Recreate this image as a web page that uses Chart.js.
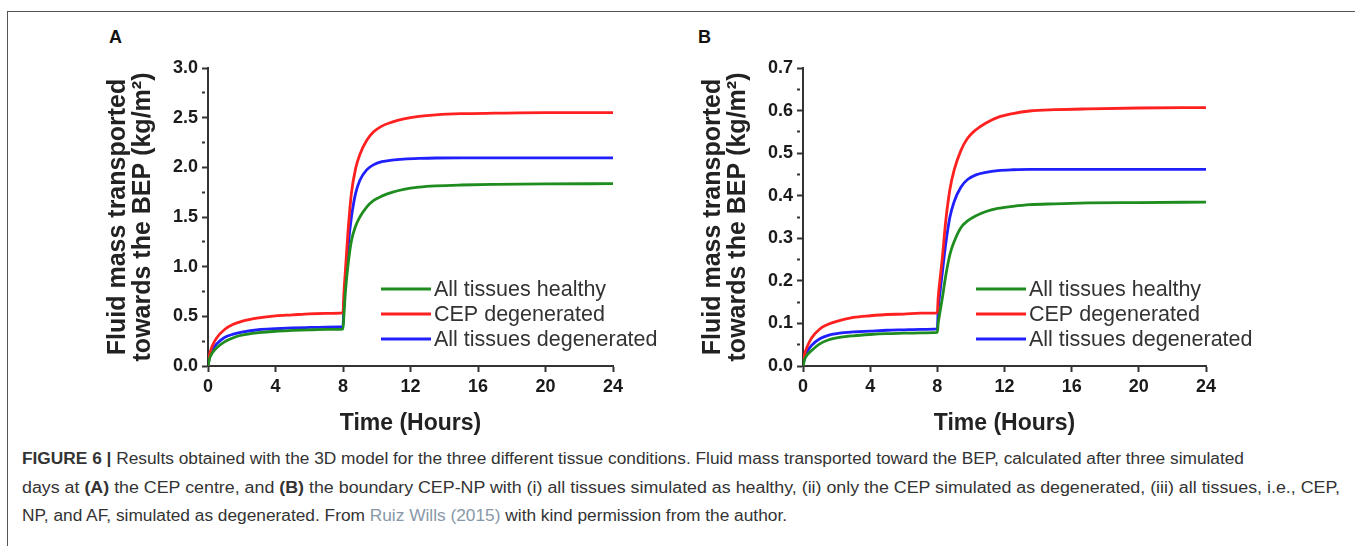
<!DOCTYPE html>
<html>
<head>
<meta charset="utf-8">
<script src="https://cdn.jsdelivr.net/npm/chart.js@4.4.0/dist/chart.umd.min.js"></script>
<style>
  body { margin: 0; background: #fff; width: 1355px; height: 546px; overflow: hidden; position: relative;
         font-family: "Liberation Sans", Arial, sans-serif; }
  #frame { position: absolute; left: 7px; top: 11px; width: 1400px; height: 600px;
           border-left: 1px solid #555; border-top: 1px solid #555; }
  .panel { position: absolute; top: 20px; }
  .letter { position: absolute; top: 27px; font-weight: bold; font-size: 18px; color: #111; }
  #caption { position: absolute; left: 22px; top: 445px; font-size: 16px; line-height: 28.5px; color: #333; }
  #caption div { white-space: nowrap; width: max-content; transform-origin: 0 0; }
  .ref { color: #8797a8; }
</style>
</head>
<body>
<div id="frame"></div>
<div class="letter" style="left:109px">A</div>
<div class="letter" style="left:698px">B</div>
<canvas id="chartA" class="panel" style="left:80px" width="590" height="420"></canvas>
<canvas id="chartB" class="panel" style="left:675px" width="590" height="420"></canvas>
<div id="caption">
  <div><b>FIGURE 6 |</b> Results obtained with the 3D model for the three different tissue conditions. Fluid mass transported toward the BEP, calculated after three simulated</div>
  <div>days at <b>(A)</b> the CEP centre, and <b>(B)</b> the boundary CEP-NP with (i) all tissues simulated as healthy, (ii) only the CEP simulated as degenerated, (iii) all tissues, i.e., CEP,</div>
  <div>NP, and AF, simulated as degenerated. From <span class="ref">Ruiz Wills (2015)</span> with kind permission from the author.</div>
</div>
<script>
// time axis (hours), shared by all curves
const hours = [0, 0.1, 0.25, 0.5, 1, 1.5, 2, 3, 4, 5, 6, 7, 8, 8.05, 8.15, 8.3, 8.5, 8.75, 9, 9.4, 9.8, 10.3, 10.9, 11.6, 12.5, 13.5, 15, 17, 20, 24];

const seriesNames = ['All tissues healthy', 'CEP degenerated', 'All tissues degenerated'];
const seriesColors = ['#1e8c1e', '#ff2020', '#2020ff'];

// Panel A - CEP centre
const healthyA = [0, 0.08, 0.13, 0.18, 0.245, 0.285, 0.31, 0.335, 0.35, 0.358, 0.364, 0.368, 0.372, 0.5, 0.76, 1.02, 1.26, 1.41, 1.50, 1.60, 1.665, 1.71, 1.748, 1.778, 1.80, 1.813, 1.822, 1.828, 1.833, 1.835];
const cepDegA = [0, 0.12, 0.2, 0.28, 0.37, 0.42, 0.45, 0.485, 0.505, 0.515, 0.525, 0.53, 0.535, 0.72, 0.98, 1.36, 1.74, 1.99, 2.13, 2.27, 2.355, 2.415, 2.455, 2.487, 2.512, 2.528, 2.54, 2.545, 2.55, 2.55];
const allDegA = [0, 0.1, 0.16, 0.22, 0.29, 0.32, 0.34, 0.365, 0.375, 0.383, 0.388, 0.392, 0.395, 0.6, 0.88, 1.2, 1.5, 1.74, 1.87, 1.975, 2.025, 2.057, 2.073, 2.083, 2.09, 2.094, 2.095, 2.095, 2.095, 2.095];

// Panel B - boundary CEP-NP
const healthyB = [0, 0.016, 0.026, 0.036, 0.052, 0.061, 0.066, 0.071, 0.074, 0.076, 0.077, 0.078, 0.079, 0.1, 0.125, 0.16, 0.212, 0.262, 0.292, 0.325, 0.341, 0.353, 0.363, 0.37, 0.375, 0.379, 0.381, 0.383, 0.384, 0.385];
const cepDegB = [0, 0.028, 0.045, 0.065, 0.087, 0.098, 0.105, 0.114, 0.118, 0.121, 0.122, 0.124, 0.125, 0.16, 0.2, 0.255, 0.34, 0.415, 0.46, 0.506, 0.535, 0.555, 0.571, 0.584, 0.593, 0.599, 0.602, 0.604, 0.606, 0.607];
const allDegB = [0, 0.022, 0.034, 0.048, 0.064, 0.072, 0.076, 0.08, 0.082, 0.084, 0.085, 0.086, 0.087, 0.13, 0.17, 0.22, 0.287, 0.35, 0.386, 0.42, 0.438, 0.449, 0.455, 0.459, 0.461, 0.462, 0.462, 0.462, 0.462, 0.462];

const xTitle = 'Time (Hours)';
const yTitle = ['Fluid mass transported', 'towards the BEP (kg/m\u00B2)'];

Chart.defaults.font.family = '"Liberation Sans", Arial, sans-serif';
Chart.defaults.color = '#222';

// legend drawn inside the plot area
const insideLegend = {
  id: 'insideLegend',
  afterDatasetsDraw(chart, args, opts) {
    const { ctx, chartArea } = chart;
    ctx.save();
    ctx.font = '21.5px "Liberation Sans", Arial, sans-serif';
    ctx.textBaseline = 'middle';
    chart.data.datasets.forEach((ds, i) => {
      const x = chartArea.left + opts.left;
      const y = chartArea.top + opts.top + i * opts.gap;
      ctx.strokeStyle = ds.borderColor;
      ctx.lineWidth = 3;
      ctx.beginPath();
      ctx.moveTo(x, y);
      ctx.lineTo(x + opts.len, y);
      ctx.stroke();
      ctx.fillStyle = '#333';
      ctx.fillText(ds.label, x + opts.len + 3, y + 1);
    });
    ctx.restore();
  }
};

function makePanel(id, values, yMax, yStep, rightPad) {
  const isMajor = v => Math.abs(v / (yStep * 2) - Math.round(v / (yStep * 2))) < 1e-6;
  return new Chart(document.getElementById(id), {
    type: 'line',
    data: {
      datasets: values.map((vals, i) => ({
        label: seriesNames[i],
        data: hours.map((h, k) => ({ x: h, y: vals[k] })),
        borderColor: seriesColors[i],
        borderWidth: 2.8,
        pointRadius: 0,
        cubicInterpolationMode: 'monotone',
        fill: false
      }))
    },
    options: {
      responsive: false,
      animation: false,
      layout: { padding: { left: 0, right: rightPad, top: 48, bottom: 0 } },
      plugins: {
        legend: { display: false },
        tooltip: { enabled: false },
        insideLegend: { left: 173, top: 221, gap: 25, len: 50 }
      },
      scales: {
        x: {
          type: 'linear',
          min: 0,
          max: 24,
          afterFit: s => { s.height = 74; },
          border: { color: '#333', width: 2 },
          grid: { drawOnChartArea: false, tickLength: 6, tickColor: '#333', tickWidth: 2 },
          ticks: { stepSize: 4, padding: 4, font: { size: 18, weight: 'bold' }, color: '#1a1a1a', maxRotation: 0 },
          title: { display: true, text: xTitle, font: { size: 23, weight: 'bold' }, color: '#222', padding: { top: 0, bottom: 3 } }
        },
        y: {
          min: 0,
          max: yMax,
          afterFit: s => { s.width = 128; },
          border: { color: '#333', width: 2 },
          grid: {
            drawOnChartArea: false,
            tickLength: 6,
            tickColor: '#333',
            tickWidth: 2,
            tickBorderDash: c => (c.tick && isMajor(c.tick.value)) ? [] : [3, 30]
          },
          ticks: {
            stepSize: yStep,
            autoSkip: false,
            padding: 4,
            font: { size: 18, weight: 'bold' },
            color: '#1a1a1a',
            callback: v => isMajor(v) ? v.toFixed(1) : ''
          },
          title: {
            display: true,
            text: yTitle,
            font: { size: 25, weight: 'bold', lineHeight: 1.0 },
            color: '#222',
            padding: { top: 26, bottom: 0 }
          }
        }
      }
    },
    plugins: [insideLegend]
  });
}

makePanel('chartA', [healthyA, cepDegA, allDegA], 3.0, 0.25, 57);
makePanel('chartB', [healthyB, cepDegB, allDegB], 0.7, 0.05, 59);

// squeeze caption lines to the reference widths
const capWidths = [1222, 1318, 765];
document.querySelectorAll('#caption div').forEach((d, i) => {
  const w = d.getBoundingClientRect().width;
  d.style.transform = 'scaleX(' + (capWidths[i] / w) + ')';
});
</script>
</body>
</html>
